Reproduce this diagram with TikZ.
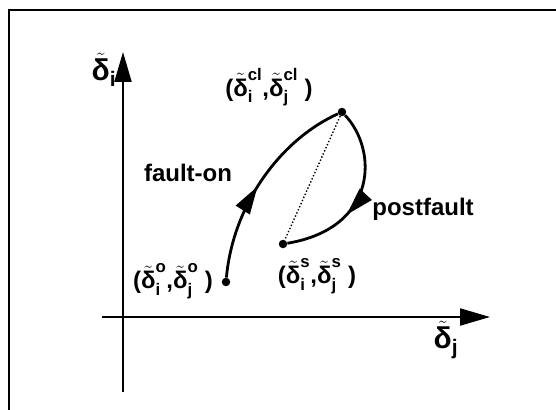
\documentclass[tikz,border=0pt]{standalone}
\usepackage{amsmath}
\usepackage{fontspec}
\setmainfont{Liberation Sans}
\usetikzlibrary{arrows.meta, decorations.markings}

\newcommand{\dlt}[2]{$\tilde{\text{δ}}_{\text{#1}}^{\text{#2}}$}

\begin{document}
\begin{tikzpicture}[
    x=1pt, y=-1pt,
    frame/.style={line width=2pt},
    axis/.style={line width=2.2pt, -{Triangle[length=30pt, width=17pt]}},
    traj/.style={line width=2.8pt},
    dot/.style={circle, fill=black, inner sep=0pt, minimum size=8.5pt},
    lbl/.style={font=\fontsize{24}{26}\selectfont\bfseries, inner sep=0pt},
    axlbl/.style={font=\fontsize{30}{32}\selectfont\bfseries, inner sep=0pt},
    midarrow/.style={postaction={decorate}, decoration={markings,
        mark=at position #1 with {\arrow{Triangle[length=28pt, width=16pt]}}}},
]
\useasboundingbox (0,0) rectangle (556,409);

% Frame
\draw[frame] (9,10) rectangle (580,430);

% Axes
\coordinate (ybot) at (123,392);
\coordinate (ytop) at (123,52);
\coordinate (xlft) at (102,317);
\coordinate (xrgt) at (490,317);
\draw[axis] (ybot) -- (ytop);
\draw[axis] (xlft) -- (xrgt);
\node[axlbl] (li) at (104,70) {\dlt{i}{}};
\node[axlbl] (lj) at (446,340) {\dlt{j}{}};

% States
\node[dot] (o) at (226,282) {};
\node[dot] (cl) at (342,112) {};
\node[dot] (s) at (283,244) {};

% Trajectories
\draw[traj, midarrow=0.47] (o) .. controls (233,205) and (280,140) .. (cl);
\draw[traj, midarrow=0.62] (cl) .. controls (378,150) and (378,228) .. (s);
\draw[line width=1.4pt, dotted] (cl) -- (s);

% Labels
\node[lbl] (tfo) at (188,173) {fault-on};
\node[lbl] (tpf) at (423,209) {postfault};
\node[lbl] (lo) at (173,281) {(\dlt{i}{o},\dlt{j}{o} )};
\node[lbl] (lcl) at (269,87) {(\dlt{i}{cl},\dlt{j}{cl} )};
\node[lbl] (ls) at (317,276) {(\dlt{i}{s},\dlt{j}{s} )};

\end{tikzpicture}
\end{document}
